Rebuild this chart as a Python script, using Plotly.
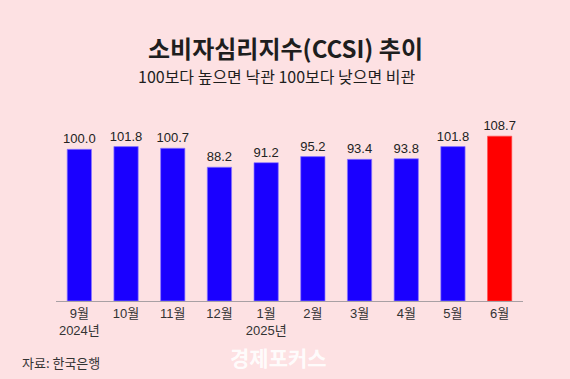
import plotly.graph_objects as go

months = ["9월", "10월", "11월", "12월", "1월", "2월", "3월", "4월", "5월", "6월"]
tick_labels = ["9월<br>2024년", "10월", "11월", "12월", "1월<br>2025년", "2월", "3월", "4월", "5월", "6월"]
values = [100.0, 101.8, 100.7, 88.2, 91.2, 95.2, 93.4, 93.8, 101.8, 108.7]
highlight = "6월"

BG = "#fde1e3"
BLUE = "#1a00ff"
RED = "#ff0000"

colors = [RED if m == highlight else BLUE for m in months]
line_colors = ["rgba(255,80,80,0.6)" if m == highlight else "rgba(140,120,255,0.7)" for m in months]

fig = go.Figure()
fig.add_trace(go.Bar(
    x=months,
    y=values,
    width=0.52,
    marker=dict(color=colors, line=dict(color=line_colors, width=1)),
    text=[f"{v:.1f}" for v in values],
    textposition="outside",
    textfont=dict(family="Liberation Sans, Arial, sans-serif", size=13, color="#222222"),
    cliponaxis=False,
    hoverinfo="skip",
))

fig.update_layout(
    width=570,
    height=379,
    paper_bgcolor=BG,
    plot_bgcolor=BG,
    margin=dict(l=56, r=47, t=119, b=78),
    showlegend=False,
    uniformtext=dict(minsize=13, mode="show"),
    font=dict(family="Liberation Sans, Noto Sans CJK KR, sans-serif", color="#222222"),
    xaxis=dict(
        tickmode="array",
        tickvals=months,
        ticktext=tick_labels,
        showline=True,
        linecolor="#a8a0a4",
        linewidth=1,
        ticks="",
        showgrid=False,
        zeroline=False,
        tickfont=dict(family="Liberation Sans, Noto Sans CJK KR, sans-serif", size=13, color="#333333"),
        range=[-0.5, 9.5],
    ),
    yaxis=dict(
        range=[0, 120],
        visible=False,
        showgrid=False,
        zeroline=False,
    ),
    annotations=[
        dict(text="<b>소비자심리지수(CCSI) 추이</b>", x=285, y=47, xref="paper", yref="paper",
             showarrow=False, font=dict(family="Noto Sans CJK KR", size=24, color="#1e1e1e")),
        dict(text="100보다 높으면 낙관 100보다 낮으면 비관", x=277, y=76, xref="paper", yref="paper",
             showarrow=False, font=dict(family="Noto Sans CJK KR", size=16, color="#1e1e1e")),
        dict(text="자료: 한국은행", x=20, y=362, xref="paper", yref="paper", xanchor="left",
             showarrow=False, font=dict(family="Noto Sans CJK KR", size=13, color="#333333")),
        dict(text="<b>경제포커스</b>", x=278, y=357, xref="paper", yref="paper",
             showarrow=False, font=dict(family="Noto Sans CJK KR", size=21, color="rgba(255,255,255,0.9)")),
    ],
)

# convert pixel-positioned annotations to paper coordinates
pl, pr, pt, pb = 56, 47, 119, 78
pw, ph = 570 - pl - pr, 379 - pt - pb
for a in fig.layout.annotations:
    a.x = (a.x - pl) / pw
    a.y = 1 - (a.y - pt) / ph
    if a.yanchor is None:
        a.yanchor = "middle"

fig.write_html("out.html", config={"displayModeBar": False},
               post_script="document.body.style.margin='0';")
